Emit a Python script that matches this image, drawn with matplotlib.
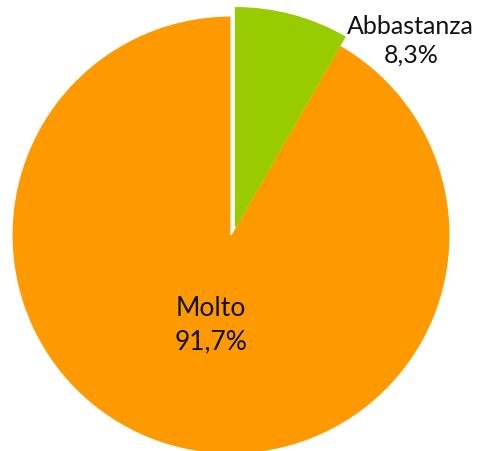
import matplotlib
matplotlib.use("Agg")
import matplotlib.pyplot as plt
import numpy as np

categories = ["Abbastanza", "Molto"]
shares = [8.3, 91.7]
pct_labels = ["8,3%", "91,7%"]
colors = ["#99CC00", "#FF9900"]

fig = plt.figure(figsize=(4.81, 4.51), dpi=100)
ax = fig.add_axes([0, 0, 1, 1])

wedges, _ = ax.pie(shares, colors=colors, startangle=90, counterclock=False,
                   radius=1.0)

# slide the small slice out along its lower edge, leaving a gap on the left
green = wedges[0]
shift = 0.043
ang = np.deg2rad(green.theta1)
green.set_center((shift * np.cos(ang), shift * np.sin(ang)))
green.set_zorder(3)
green.set_edgecolor(colors[0])
green.set_linewidth(1.1)
wedges[1].set_edgecolor("white")
wedges[1].set_linewidth(0.8)

# pie centre sits at (231, 235) px, radius 219 px
scale = 219.0
cx, cy = 231.0, 235.0
ax.set_xlim(-cx / scale, (481 - cx) / scale)
ax.set_ylim(-(451 - cy) / scale, cy / scale)
ax.set_aspect("equal", adjustable="box")
ax.axis("off")

ax.text(0.854, 0.910, f"{categories[0]}\n{pct_labels[0]}", transform=ax.transAxes,
        ha="center", va="center", fontsize=18, family="Lato", color="#111111",
        linespacing=1.32)
ax.text(0.439, 0.279, f"{categories[1]}\n{pct_labels[1]}", transform=ax.transAxes,
        ha="center", va="center", fontsize=19, family="Lato", color="#111111",
        linespacing=1.43)

fig.savefig("out.png", dpi=100)
